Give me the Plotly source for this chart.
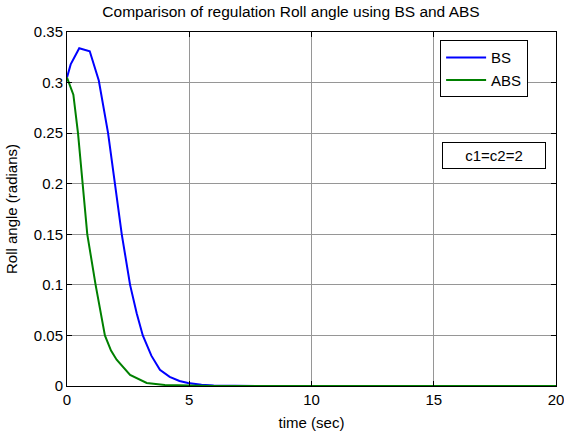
import plotly.graph_objects as go

bs_t = [0, 0.15, 0.5, 0.93, 1.3, 1.68, 1.96, 2.24, 2.58, 2.85, 3.1, 3.45, 3.8, 4.2, 4.6, 4.95, 5.5, 6, 8, 10, 20]
bs_y = [0.305, 0.318, 0.334, 0.331, 0.302, 0.25, 0.2, 0.15, 0.1, 0.072, 0.05, 0.03, 0.016, 0.009, 0.005, 0.003, 0.0012, 0.0005, 0, 0, 0]

abs_t = [0, 0.26, 0.45, 0.64, 0.83, 1.17, 1.55, 1.8, 2.03, 2.58, 3.26, 4.0, 5.0, 6.0, 10, 20]
abs_y = [0.305, 0.288, 0.25, 0.2, 0.15, 0.1, 0.05, 0.035, 0.026, 0.011, 0.003, 0.001, 0.0002, 0, 0, 0]

x_ticks = [0, 5, 10, 15, 20]
y_ticks = [0, 0.05, 0.1, 0.15, 0.2, 0.25, 0.3, 0.35]

font = "Liberation Sans, Arial, sans-serif"

fig = go.Figure()
fig.add_trace(go.Scatter(x=bs_t, y=bs_y, mode="lines", name="BS",
                         line=dict(color="rgb(0,0,255)", width=2)))
fig.add_trace(go.Scatter(x=abs_t, y=abs_y, mode="lines", name="ABS",
                         line=dict(color="rgb(0,128,0)", width=2)))

axis_common = dict(showline=True, linecolor="black", linewidth=1, mirror="ticks",
                   ticks="inside", ticklen=5, tickcolor="black", automargin=False,
                   ticklabeloverflow="allow",
                   showgrid=True, gridcolor="rgb(150,150,150)", gridwidth=1,
                   zeroline=False, tickfont=dict(family=font, size=15, color="black"))

fig.update_layout(
    width=564, height=432,
    margin=dict(l=67, r=8, t=32, b=46),
    paper_bgcolor="white", plot_bgcolor="white",
    font=dict(family=font, size=15, color="black"),
    title=dict(text="Comparison of regulation Roll angle using BS and ABS",
               x=0.516, xanchor="center", y=0.985, yanchor="top",
               font=dict(family=font, size=15.5, color="black")),
    xaxis=dict(range=[0, 20], tickvals=x_ticks,
               title=dict(text="time (sec)", standoff=10, font=dict(family=font, size=15)),
               **axis_common),
    yaxis=dict(range=[0, 0.35], tickvals=y_ticks,
               ticktext=[("%g" % v) for v in y_ticks],
               title=dict(text="Roll angle (radians)", standoff=12, font=dict(family=font, size=15)),
               **axis_common),
    showlegend=True,
    legend=dict(x=0.763, y=0.977, xanchor="left", yanchor="top",
                bgcolor="white", bordercolor="black", borderwidth=1,
                font=dict(family=font, size=15, color="black"),
                tracegroupgap=0, itemwidth=40),
    annotations=[dict(text="c1=c2=2", xref="paper", yref="paper",
                      x=0.873, y=0.65, xanchor="center", yanchor="middle",
                      showarrow=False, bgcolor="white", bordercolor="black",
                      borderwidth=1, borderpad=4, width=94,
                      font=dict(family=font, size=15, color="black"))],
)

fig.write_html("out.html")
